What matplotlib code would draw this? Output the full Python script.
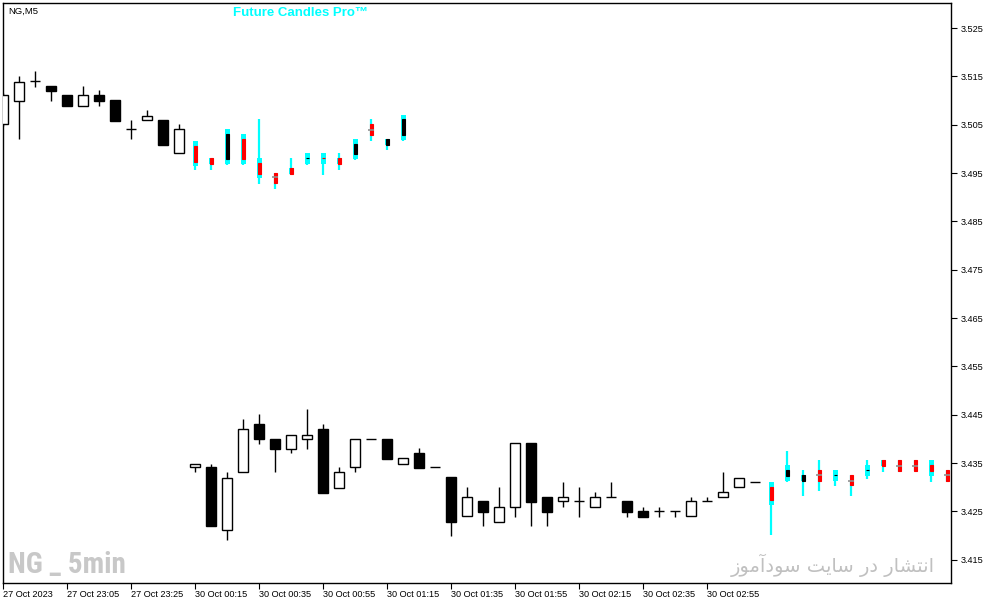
import numpy as np
import matplotlib
matplotlib.use('Agg')
import matplotlib.pyplot as plt
from matplotlib import font_manager

# real candles, bar index 0..47
real_open = [3.5051, 3.5100, 3.5140, 3.5130, 3.5111, 3.5089, 3.5111, 3.5101, 3.5041, 3.5059, 3.5060, 3.4991,
             3.4341, 3.4342, 3.4211, 3.4331, 3.4431, 3.4399, 3.4380, 3.4399, 3.4420, 3.4299, 3.4341, 3.4399,
             3.4399, 3.4349, 3.4371, 3.4341, 3.4321, 3.4240, 3.4271, 3.4229, 3.4260, 3.4391, 3.4280, 3.4271,
             3.4271, 3.4260, 3.4279, 3.4271, 3.4251, 3.4250, 3.4250, 3.4240, 3.4271, 3.4279, 3.4300, 3.4310]
real_high = [3.5115, 3.5151, 3.5161, 3.5130, 3.5111, 3.5130, 3.5122, 3.5101, 3.5060, 3.5080, 3.5060, 3.5051,
             3.4349, 3.4349, 3.4331, 3.4441, 3.4451, 3.4399, 3.4409, 3.4462, 3.4431, 3.4342, 3.4399, 3.4399,
             3.4399, 3.4360, 3.4381, 3.4341, 3.4321, 3.4300, 3.4271, 3.4300, 3.4391, 3.4391, 3.4280, 3.4311,
             3.4300, 3.4290, 3.4311, 3.4271, 3.4260, 3.4260, 3.4250, 3.4280, 3.4280, 3.4331, 3.4320, 3.4310]
real_low = [3.5048, 3.5020, 3.5129, 3.5100, 3.5089, 3.5089, 3.5089, 3.5058, 3.5020, 3.5059, 3.5009, 3.4991,
            3.4331, 3.4220, 3.4190, 3.4331, 3.4390, 3.4331, 3.4370, 3.4380, 3.4289, 3.4299, 3.4331, 3.4399,
            3.4359, 3.4349, 3.4340, 3.4341, 3.4199, 3.4240, 3.4220, 3.4229, 3.4239, 3.4220, 3.4220, 3.4260,
            3.4239, 3.4260, 3.4279, 3.4239, 3.4239, 3.4239, 3.4239, 3.4240, 3.4271, 3.4279, 3.4300, 3.4310]
real_close = [3.5112, 3.5139, 3.5140, 3.5120, 3.5089, 3.5111, 3.5100, 3.5058, 3.5041, 3.5069, 3.5009, 3.5041,
              3.4349, 3.4220, 3.4320, 3.4420, 3.4399, 3.4380, 3.4409, 3.4409, 3.4289, 3.4331, 3.4399, 3.4399,
              3.4359, 3.4360, 3.4340, 3.4341, 3.4229, 3.4279, 3.4249, 3.4260, 3.4391, 3.4270, 3.4249, 3.4279,
              3.4271, 3.4279, 3.4279, 3.4249, 3.4239, 3.4250, 3.4250, 3.4271, 3.4271, 3.4290, 3.4320, 3.4310]

# future candles (Future Candles Pro)
fut_x = [12, 13, 14, 15, 16, 17, 18, 19, 20, 21, 22, 23, 24, 25,
         48, 49, 50, 51, 52, 53, 54, 55, 56, 57, 58, 59]
fut_wick_lo = [3.4956, 3.4956, 3.4966, 3.4967, 3.4927, 3.4917, 3.4946, 3.4966, 3.4946, 3.4956, 3.4977, 3.5016, 3.4998, 3.5016,
               3.4201, 3.4311, 3.4282, 3.4292, 3.4302, 3.4282, 3.4318, 3.4332, 3.4331, 3.4333, 3.4311, 3.4311]
fut_wick_hi = [3.5016, 3.4981, 3.5041, 3.5031, 3.5062, 3.4950, 3.4981, 3.4992, 3.4992, 3.4992, 3.5020, 3.5062, 3.5020, 3.5070,
               3.4311, 3.4375, 3.4336, 3.4356, 3.4336, 3.4325, 3.4356, 3.4356, 3.4356, 3.4356, 3.4356, 3.4336]
fut_box_lo = [3.4965, 3.4969, 3.4968, 3.4969, 3.4940, None, 3.4948, 3.4969, 3.4969, 3.4969, 3.4979, None, 3.5008, 3.5018,
              3.4264, 3.4313, 3.4313, None, 3.4313, None, 3.4323, 3.4344, None, None, 3.4323, None]
fut_box_hi = [3.5016, 3.4981, 3.5041, 3.5031, 3.4981, None, 3.4960, 3.4992, 3.4992, 3.4981, 3.5020, None, 3.5020, 3.5070,
              3.4311, 3.4346, 3.4325, None, 3.4336, None, 3.4346, 3.4356, None, None, 3.4356, None]
fut_body_lo = [3.4974, 3.4969, 3.4979, 3.4979, 3.4948, 3.4930, 3.4948, 3.4981, 3.4981, 3.4969, 3.4989, 3.5029, 3.5008, 3.5029,
               3.4273, 3.4323, 3.4313, 3.4313, 3.4325, 3.4305, 3.4335, 3.4344, 3.4333, 3.4333, 3.4333, 3.4313]
fut_body_hi = [3.5007, 3.4981, 3.5031, 3.5020, 3.4971, 3.4950, 3.4960, 3.4981, 3.4981, 3.4981, 3.5010, 3.5051, 3.5020, 3.5062,
               3.4300, 3.4336, 3.4325, 3.4336, 3.4325, 3.4325, 3.4335, 3.4356, 3.4356, 3.4356, 3.4346, 3.4336]
fut_body_col = ['r', 'r', 'k', 'r', 'r', 'r', 'r', 'k', 'r', 'r', 'k', 'r', 'k', 'k',
                'r', 'k', 'k', 'r', 'k', 'r', 'k', 'r', 'r', 'r', 'r', 'r']
fut_mark = [None, None, None, None, None, 3.4941, None, None, None, None, None, 3.5040, None, None,
            None, None, None, 3.4325, None, 3.4314, None, None, 3.4345, 3.4345, None, 3.4325]

tick_pos = [0, 4, 8, 12, 16, 20, 24, 28, 32, 36, 40, 44]
tick_labels = ['27 Oct 2023', '27 Oct 23:05', '27 Oct 23:25', '30 Oct 00:15', '30 Oct 00:35', '30 Oct 00:55',
               '30 Oct 01:15', '30 Oct 01:35', '30 Oct 01:55', '30 Oct 02:15', '30 Oct 02:35', '30 Oct 02:55']
price_ticks = [3.415, 3.425, 3.435, 3.445, 3.455, 3.465, 3.475, 3.485, 3.495, 3.505, 3.515, 3.525]

watermark = 'NG _ 5min'
# "انتشار در سایت سودآموز" in shaped presentation forms, visual order
site_text = ('\uFEAF\uFEEE\uFEE3\uFE81\uFEA9\uFEEE\uFEB3 \uFE96\uFBFE\uFE8E\uFEB3 '
             '\uFEAD\uFEA9 \uFEAD\uFE8E\uFEB8\uFE98\uFEE7\uFE8D')

CYAN = '#00ffff'
RED = '#ff0000'

# pick a narrow font for the watermark if one is installed
installed = {f.name for f in font_manager.fontManager.ttflist}
narrow = 'DejaVu Sans'
wm_size = 15
for name, size in [('Liberation Sans Narrow', 21), ('Roboto Condensed', 21), ('Open Sans Condensed', 21),
                   ('DejaVu Sans Condensed', 17)]:
    if name in installed:
        narrow, wm_size = name, size
        break

fig = plt.figure(figsize=(9.91, 6.05), dpi=100)
ax = fig.add_axes([3/991, 22/605, 948/991, 580/605])

x = np.arange(len(real_open))
o = np.array(real_open); h = np.array(real_high); l = np.array(real_low); c = np.array(real_close)
ax.vlines(x, l, h, color='black', lw=1.0, zorder=2)
body_col = np.where(c > o, 'white', 'black')
ax.bar(x, np.abs(c - o), bottom=np.minimum(o, c), width=0.62, color=body_col,
       edgecolor='black', linewidth=1.0, zorder=3)

fx = np.array(fut_x)
ax.vlines(fx, fut_wick_lo, fut_wick_hi, color=CYAN, lw=1.6, zorder=2)
blo = np.array([np.nan if v is None else v for v in fut_box_lo])
bhi = np.array([np.nan if v is None else v for v in fut_box_hi])
ax.bar(fx, bhi - blo, bottom=blo, width=0.32, color=CYAN, linewidth=0, zorder=3)
ilo = np.array(fut_body_lo); ihi = np.array(fut_body_hi)
icol = [RED if k == 'r' else 'black' for k in fut_body_col]
ax.bar(fx, ihi - ilo, bottom=ilo, width=0.18, color=icol, edgecolor=icol, linewidth=0.8, zorder=4)
for xi, m in zip(fut_x, fut_mark):
    if m is not None:
        ax.hlines(m, xi - 0.18, xi + 0.18, color='#909090', lw=1.2, zorder=5)

ax.set_xlim(-0.02, 59.23)
ax.set_ylim(3.4102, 3.5302)
ax.set_xticks(tick_pos)
ax.set_xticklabels(tick_labels, ha='left', fontsize=6.6, family='Liberation Sans')
ax.yaxis.tick_right()
ax.set_yticks(price_ticks)
ax.set_yticklabels(['%.3f' % v for v in price_ticks], fontsize=6.6, family='Liberation Sans')
ax.tick_params(axis='x', direction='out', length=4, width=0.8, pad=1)
ax.tick_params(axis='y', direction='out', length=4, width=0.8, pad=3)
for s in ax.spines.values():
    s.set_linewidth(1.0)
    s.set_color('black')

fig.text(8/991, 1 - 11/605, 'NG,M5', fontsize=6.8, va='center', family='Liberation Sans')
fig.text(233/991, 1 - 13/605, 'Future Candles Pro\u2122', fontsize=9.5, weight='bold', color=CYAN,
         va='center', family='Liberation Sans')
fig.text(8/991, 1 - 565/605, watermark, fontsize=wm_size, weight='bold', color='#c8c8c8',
         va='center', family=narrow)
fig.text(935/991, 1 - 565/605, site_text, fontsize=14, color='#c0c0c0', ha='right',
         va='center', family='DejaVu Sans')

fig.savefig('out.png', dpi=100)
